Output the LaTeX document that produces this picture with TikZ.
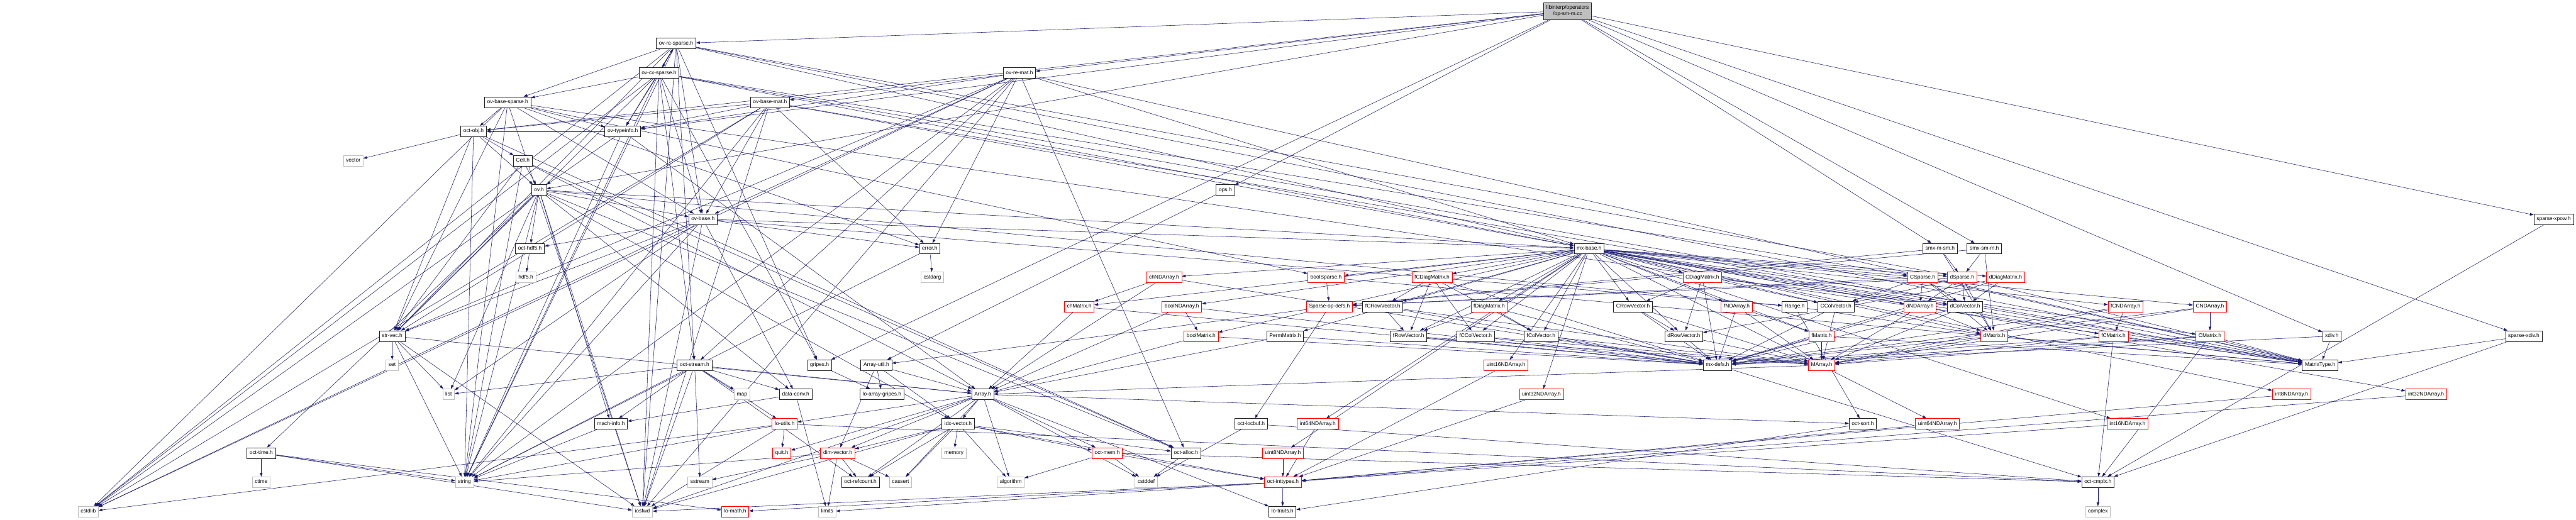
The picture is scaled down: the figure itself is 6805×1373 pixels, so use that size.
\documentclass[tikz,border=0pt]{standalone}
\usepackage{fontspec}
\setmainfont{Liberation Sans}
\usetikzlibrary{arrows.meta}
\definecolor{edgec}{HTML}{191970}
\definecolor{grayc}{HTML}{BFBFBF}
\definecolor{redc}{HTML}{FF0000}
\definecolor{blkc}{HTML}{202020}
\pgfdeclarelayer{bg}
\pgfsetlayers{bg,main}
\newcommand\myfan[2]{\foreach \t in {#2}{\draw[edge] (#1) -- (\t);}}
\begin{document}
\begin{tikzpicture}[x=1pt,y=-1pt,
  nd/.style={draw=blkc, line width=1.3pt, fill=white, minimum height=28pt, inner xsep=7pt, inner ysep=0pt,
    text height=10pt, text depth=3pt, font=\fontsize{14}{16}\selectfont},
  rd/.style={nd, draw=redc},
  gy/.style={nd, draw=grayc},
  edge/.style={draw=edgec, line width=0.9pt, -{Triangle[length=10pt,width=7pt]}}]
\useasboundingbox (0,0) rectangle (6805,1373);
% rank 0
\node[nd, fill=grayc, align=center, minimum height=45pt, text height=, text depth=] (root) at (4141,29) {libinterp/operators\\/op-sm-m.cc};
% rank 1
\node[nd] (ovresparse) at (1786,115) {ov-re-sparse.h};
% rank 2
\node[nd] (ovcxsparse) at (1741,193) {ov-cx-sparse.h};
\node[nd] (ovremat) at (2693,193) {ov-re-mat.h};
% rank 3
\node[nd] (ovbasesparse) at (1341,270) {ov-base-sparse.h};
\node[nd] (ovbasemat) at (2034,270) {ov-base-mat.h};
% rank 4
\node[nd] (octobj) at (1251,347) {oct-obj.h};
\node[nd] (ovtypeinfo) at (1645,347) {ov-typeinfo.h};
% rank 5
\node[gy] (vector) at (933,425) {vector};
\node[nd] (cell) at (1381,425) {Cell.h};
% rank 6
\node[nd] (ovh) at (1424,502) {ov.h};
\node[nd] (opsh) at (3237,502) {ops.h};
% rank 7
\node[nd] (ovbase) at (1857,579) {ov-base.h};
\node[nd] (sparsexpow) at (6746,579) {sparse-xpow.h};
% rank 8
\node[nd] (octhdf5) at (1400,657) {oct-hdf5.h};
\node[nd] (errorh) at (2456,657) {error.h};
\node[nd] (mxbase) at (4198,657) {mx-base.h};
\node[nd] (smxmsm) at (5125,657) {smx-m-sm.h};
\node[nd] (smxsmm) at (5242,657) {smx-sm-m.h};
% rank 9
\node[gy] (hdf5) at (1389,733) {hdf5.h};
\node[gy] (cstdarg) at (2463,733) {cstdarg};
\node[rd] (chNDArray) at (3075,733) {chNDArray.h};
\node[rd] (boolSparse) at (3503,733) {boolSparse.h};
\node[rd] (fCDiagMatrix) at (3783,733) {fCDiagMatrix.h};
\node[rd] (CDiagMatrix) at (4497,733) {CDiagMatrix.h};
\node[rd] (CSparse) at (5079,733) {CSparse.h};
\node[rd] (dSparse) at (5183,733) {dSparse.h};
\node[rd] (dDiagMatrix) at (5298,733) {dDiagMatrix.h};
% rank 10
\node[rd] (chMatrix) at (2851,810) {chMatrix.h};
\node[rd] (boolNDArray) at (3122,810) {boolNDArray.h};
\node[rd] (SparseOpDefs) at (3512,810) {Sparse-op-defs.h};
\node[nd] (fCRowVector) at (3653,810) {fCRowVector.h};
\node[rd] (fDiagMatrix) at (3934,810) {fDiagMatrix.h};
\node[nd] (CRowVector) at (4314,810) {CRowVector.h};
\node[rd] (fNDArray) at (4588,810) {fNDArray.h};
\node[nd] (Range) at (4741,810) {Range.h};
\node[nd] (CColVector) at (4850,810) {CColVector.h};
\node[rd] (dNDArray) at (5072,810) {dNDArray.h};
\node[nd] (dColVector) at (5191,810) {dColVector.h};
\node[rd] (fCNDArray) at (5615,810) {fCNDArray.h};
\node[rd] (CNDArray) at (5838,810) {CNDArray.h};
% rank 11
\node[nd] (strvec) at (1036,888) {str-vec.h};
\node[rd] (boolMatrix) at (3173,888) {boolMatrix.h};
\node[nd] (PermMatrix) at (3395,888) {PermMatrix.h};
\node[nd] (fRowVector) at (3721,888) {fRowVector.h};
\node[nd] (fCColVector) at (3898,888) {fCColVector.h};
\node[nd] (fColVector) at (4071,888) {fColVector.h};
\node[nd] (dRowVector) at (4448,888) {dRowVector.h};
\node[rd] (fMatrix) at (4812,888) {fMatrix.h};
\node[rd] (dMatrix) at (5268,888) {dMatrix.h};
\node[rd] (fCMatrix) at (5583,888) {fCMatrix.h};
\node[rd] (CMatrix) at (5838,888) {CMatrix.h};
\node[nd] (xdiv) at (6160,888) {xdiv.h};
\node[nd] (sparsexdiv) at (6667,888) {sparse-xdiv.h};
% rank 12
\node[gy] (set) at (1036,965) {set};
\node[nd] (octstream) at (1835,965) {oct-stream.h};
\node[nd] (gripes) at (2165,965) {gripes.h};
\node[nd] (ArrayUtil) at (2315,965) {Array-util.h};
\node[rd] (uint16NDArray) at (3978,965) {uint16NDArray.h};
\node[nd] (mxdefs) at (4537,965) {mx-defs.h};
\node[rd] (MArray) at (4812,965) {MArray.h};
\node[nd] (MatrixType) at (6129,965) {MatrixType.h};
% rank 13
\node[gy] (list) at (1185,1042) {list};
\node[gy] (map) at (1960,1042) {map};
\node[nd] (dataconv) at (2102,1042) {data-conv.h};
\node[nd] (loarraygripes) at (2330,1042) {lo-array-gripes.h};
\node[nd] (Array) at (2596,1042) {Array.h};
\node[rd] (uint32NDArray) at (4072,1042) {uint32NDArray.h};
\node[rd] (int8NDArray) at (6054,1042) {int8NDArray.h};
\node[rd] (int32NDArray) at (6409,1042) {int32NDArray.h};
% rank 14
\node[nd] (machinfo) at (1614,1120) {mach-info.h};
\node[rd] (loutils) at (2073,1120) {lo-utils.h};
\node[nd] (idxvector) at (2531,1120) {idx-vector.h};
\node[nd] (octlocbuf) at (3305,1120) {oct-locbuf.h};
\node[rd] (int64NDArray) at (3481,1120) {int64NDArray.h};
\node[nd] (octsort) at (4921,1120) {oct-sort.h};
\node[rd] (uint64NDArray) at (5118,1120) {uint64NDArray.h};
\node[rd] (int16NDArray) at (5620,1120) {int16NDArray.h};
% rank 15
\node[nd] (octtime) at (690,1197) {oct-time.h};
\node[rd] (quit) at (2065,1197) {quit.h};
\node[rd] (dimvector) at (2213,1197) {dim-vector.h};
\node[gy] (memory) at (2520,1197) {memory};
\node[rd] (octmem) at (2925,1197) {oct-mem.h};
\node[nd] (octalloc) at (3133,1197) {oct-alloc.h};
\node[rd] (uint8NDArray) at (3389,1197) {uint8NDArray.h};
% rank 16
\node[gy] (ctime) at (690,1274) {ctime};
\node[gy] (string) at (1227,1274) {string};
\node[gy] (sstream) at (1849,1274) {sstream};
\node[nd] (octrefcount) at (2273,1274) {oct-refcount.h};
\node[gy] (cassert) at (2379,1274) {cassert};
\node[gy] (algorithm) at (2670,1274) {algorithm};
\node[gy] (cstddef) at (3028,1274) {cstddef};
\node[rd] (octinttypes) at (3389,1274) {oct-inttypes.h};
\node[nd] (octcmplx) at (5542,1274) {oct-cmplx.h};
% rank 17
\node[gy] (cstdlib) at (233,1352) {cstdlib};
\node[gy] (iosfwd) at (1697,1352) {iosfwd};
\node[rd] (lomath) at (1942,1352) {lo-math.h};
\node[gy] (limits) at (2185,1352) {limits};
\node[nd] (lotraits) at (3388,1352) {lo-traits.h};
\node[gy] (complex) at (5542,1352) {complex};

\begin{pgfonlayer}{bg}
\myfan{root}{ovresparse,ovremat,ovtypeinfo,octobj,ovh,opsh,gripes,sparsexpow,sparsexdiv,xdiv,smxsmm,smxmsm}
\myfan{ovresparse}{cstdlib,iosfwd,string,mxbase,strvec,gripes,octstream,ovbase,ovtypeinfo,dSparse,MatrixType,ovbasesparse,ovcxsparse}
\myfan{ovcxsparse}{cstdlib,iosfwd,string,mxbase,strvec,gripes,octstream,ovbase,ovtypeinfo,CSparse,MatrixType,ovbasesparse,ovresparse}
\myfan{ovbasesparse}{cstdlib,iosfwd,string,strvec,errorh,octobj,ovbase,ovtypeinfo,boolSparse,MatrixType}
\myfan{ovbasemat}{cstdlib,iosfwd,string,mxbase,strvec,MatrixType,errorh,octobj,ovbase,ovtypeinfo}
\myfan{ovremat}{cstdlib,iosfwd,string,mxbase,octalloc,strvec,errorh,octstream,ovbase,ovbasemat,ovtypeinfo,MatrixType}
\myfan{octobj}{string,vector,octalloc,strvec,cell,ovh}
\myfan{ovtypeinfo}{string,octobj,ovh,Array}
\myfan{cell}{string,Array,octalloc,strvec,ovh}
\myfan{ovh}{cstdlib,iosfwd,string,list,Range,dataconv,idxvector,machinfo,mxbase,octalloc,octtime,strvec,octhdf5,ovbase}
\myfan{ovbase}{cstdlib,iosfwd,list,string,Range,dataconv,mxbase,strvec,errorh,octhdf5}
\myfan{opsh}{ArrayUtil}
\myfan{errorh}{cstdarg,string}
\myfan{octhdf5}{hdf5}
\myfan{gripes}{loarraygripes}
\myfan{sparsexpow}{octcmplx}
\myfan{sparsexdiv}{octcmplx,MatrixType}
\myfan{xdiv}{mxdefs,MatrixType}
\myfan{smxmsm}{dMatrix,dSparse,SparseOpDefs}
\myfan{smxsmm}{dMatrix,dSparse,SparseOpDefs}
\myfan{mxbase}{MatrixType,boolMatrix,boolNDArray,chMatrix,chNDArray,dColVector,dRowVector,dMatrix,dNDArray,dDiagMatrix,CColVector,CRowVector,CMatrix,CNDArray,CDiagMatrix,fColVector,fRowVector,fMatrix,fNDArray,fDiagMatrix,fCColVector,fCRowVector,fCMatrix,fCNDArray,fCDiagMatrix,PermMatrix,int8NDArray,int16NDArray,int32NDArray,int64NDArray,uint8NDArray,uint16NDArray,uint32NDArray,uint64NDArray,boolSparse,dSparse,CSparse}
\myfan{strvec}{iosfwd,list,set,string,Array}
\myfan{octtime}{ctime,string,iosfwd,lomath}
\myfan{octstream}{iosfwd,list,map,sstream,string,Array,dataconv,loutils,machinfo,octrefcount}
\myfan{dataconv}{limits,machinfo}
\myfan{machinfo}{string}
\myfan{loutils}{quit,string,iosfwd,octcmplx,cstdlib}
\myfan{dimvector}{cassert,limits,sstream,string,octrefcount}
\myfan{ArrayUtil}{Array,dimvector,idxvector,loarraygripes}
\myfan{Array}{cassert,cstddef,algorithm,iosfwd,dimvector,idxvector,lotraits,loutils,octsort,quit,octmem,octrefcount}
\myfan{idxvector}{cassert,algorithm,iosfwd,memory,dimvector,octinttypes,octalloc,octmem,octrefcount}
\myfan{octmem}{cstddef,algorithm,octcmplx,octinttypes}
\myfan{octalloc}{cstddef}
\myfan{octlocbuf}{cstddef,octcmplx}
\myfan{octinttypes}{lotraits,limits,iosfwd,lomath}
\myfan{octsort}{lotraits}
\myfan{octcmplx}{complex}
\myfan{mxdefs}{octcmplx}
\myfan{MArray}{Array}
\myfan{Range}{dMatrix,octsort}
\myfan{chNDArray}{chMatrix,Array,mxdefs}
\myfan{chMatrix}{Array,mxdefs}
\myfan{boolNDArray}{boolMatrix,Array,mxdefs}
\myfan{boolMatrix}{Array,mxdefs}
\myfan{PermMatrix}{Array,mxdefs}
\myfan{boolSparse}{SparseOpDefs,MatrixType}
\myfan{SparseOpDefs}{ArrayUtil,octlocbuf}
\myfan{fCDiagMatrix}{fCRowVector,fCColVector,fRowVector,fColVector,mxdefs}
\myfan{fDiagMatrix}{fRowVector,fColVector,mxdefs}
\myfan{CDiagMatrix}{CRowVector,CColVector,dRowVector,dColVector,mxdefs}
\myfan{dDiagMatrix}{dRowVector,dColVector,mxdefs}
\myfan{CSparse}{dNDArray,CColVector,dColVector,dMatrix,SparseOpDefs,MatrixType}
\myfan{dSparse}{dNDArray,CColVector,dColVector,dMatrix,SparseOpDefs,MatrixType}
\myfan{fCRowVector}{fRowVector,MArray,mxdefs}
\myfan{CRowVector}{dRowVector,MArray,mxdefs}
\myfan{fRowVector}{MArray,mxdefs}
\myfan{fCColVector}{MArray,mxdefs}
\myfan{fColVector}{MArray,mxdefs}
\myfan{dRowVector}{MArray,mxdefs}
\myfan{CColVector}{MArray,mxdefs}
\myfan{dColVector}{MArray,mxdefs}
\myfan{fNDArray}{fMatrix,MArray,mxdefs}
\myfan{dNDArray}{dMatrix,MArray,mxdefs}
\myfan{fCNDArray}{fCMatrix,MArray,mxdefs}
\myfan{CNDArray}{CMatrix,MArray,mxdefs}
\myfan{fMatrix}{MArray,mxdefs,MatrixType}
\myfan{dMatrix}{MArray,mxdefs,MatrixType}
\myfan{fCMatrix}{MArray,mxdefs,MatrixType,octcmplx}
\myfan{CMatrix}{MArray,mxdefs,MatrixType,octcmplx}
\myfan{int8NDArray}{octinttypes}
\myfan{int16NDArray}{octinttypes}
\myfan{int32NDArray}{octinttypes}
\myfan{int64NDArray}{octinttypes}
\myfan{uint8NDArray}{octinttypes}
\myfan{uint16NDArray}{octinttypes}
\myfan{uint32NDArray}{octinttypes}
\myfan{uint64NDArray}{octinttypes}
\end{pgfonlayer}
\end{tikzpicture}
\end{document}
